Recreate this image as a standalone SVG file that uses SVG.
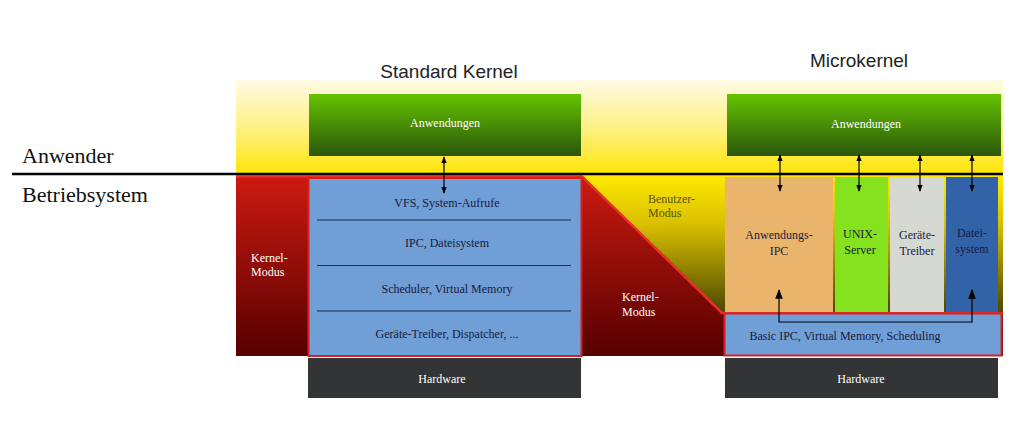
<svg xmlns="http://www.w3.org/2000/svg" width="1024" height="437" viewBox="0 0 1024 437">
<defs>
<linearGradient id="gYellow" x1="0" y1="0" x2="0" y2="1">
<stop offset="0" stop-color="#fffbe6"/><stop offset="0.55" stop-color="#fff07a"/><stop offset="1" stop-color="#ffe400"/>
</linearGradient>
<linearGradient id="gGreen" x1="0" y1="0" x2="0" y2="1">
<stop offset="0" stop-color="#66c300"/><stop offset="1" stop-color="#2a560c"/>
</linearGradient>
<linearGradient id="gRed" x1="0" y1="0" x2="0" y2="1">
<stop offset="0" stop-color="#cc1a10"/><stop offset="1" stop-color="#560000"/>
</linearGradient>
<linearGradient id="gOlive" gradientUnits="userSpaceOnUse" x1="0" y1="176" x2="0" y2="313">
<stop offset="0" stop-color="#ffe800"/><stop offset="0.35" stop-color="#d8c000"/><stop offset="1" stop-color="#4a4600"/>
</linearGradient>
<marker id="ah" viewBox="0 0 10 10" refX="9" refY="5" markerWidth="5.5" markerHeight="5.5" orient="auto-start-reverse">
<path d="M0,1 L10,5 L0,9 z" fill="#000"/>
</marker>
<marker id="ahb" viewBox="0 0 10 10" refX="9" refY="5" markerWidth="8" markerHeight="8" orient="auto-start-reverse">
<path d="M0,1 L10,5 L0,9 z" fill="#000"/>
</marker>
</defs>
<style>
.lbl{font-family:"Liberation Serif",serif;font-size:12px;text-anchor:middle}
.w{fill:#ffffff}
.d{fill:#1a1a3a}
.title{font-family:"Liberation Sans",sans-serif;font-size:19px;fill:#222;text-anchor:middle}
.side{font-family:"Liberation Serif",serif;font-size:22px;fill:#111}
.sep{stroke:#1a2a4a;stroke-width:1.2}
.conn{stroke:#000;stroke-width:1.2;fill:none}
</style>
<rect width="1024" height="437" fill="#ffffff"/>

<g id="background">
<rect x="236" y="80" width="767" height="96" fill="url(#gYellow)"/>
<rect x="236" y="176" width="767" height="180" fill="url(#gRed)"/>
<polygon points="582,176 1003,176 1003,313 722,313" fill="url(#gOlive)"/>
<polyline points="236,176.5 582,176.5 722,313 1003,313" fill="none" stroke="#e8302a" stroke-width="2.5"/>
</g>

<g id="titles">
<text class="title" x="449" y="78">Standard Kernel</text>
<text class="title" x="859" y="67">Microkernel</text>
</g>

<g id="side-labels">
<line x1="12" y1="174" x2="1003" y2="174" stroke="#000" stroke-width="2.5"/>
<text class="side" x="22" y="163">Anwender</text>
<text class="side" x="22" y="202">Betriebsystem</text>
</g>

<g id="std-apps">
<rect x="309" y="94" width="272" height="62" fill="url(#gGreen)"/>
<text class="lbl w" x="445" y="127">Anwendungen</text>
</g>

<g id="std-kernel-mode">
<text class="lbl w" x="251" y="262" style="text-anchor:start">Kernel-</text>
<text class="lbl w" x="251" y="276" style="text-anchor:start">Modus</text>
</g>

<g id="std-kernel">
<rect x="308.5" y="178" width="273" height="178" fill="#6f9fd6" stroke="#d82020" stroke-width="2"/>
<line class="sep" x1="317" y1="220" x2="571" y2="220"/>
<line class="sep" x1="317" y1="265.5" x2="571" y2="265.5"/>
<line class="sep" x1="317" y1="311" x2="571" y2="311"/>
<text class="lbl d" x="447" y="207">VFS, System-Aufrufe</text>
<text class="lbl d" x="447" y="247">IPC, Dateisystem</text>
<text class="lbl d" x="447" y="293">Scheduler, Virtual Memory</text>
<text class="lbl d" x="447" y="338">Geräte-Treiber, Dispatcher, ...</text>
</g>

<g id="std-hardware">
<rect x="308" y="358" width="273" height="40" fill="#323436"/>
<text class="lbl w" x="442" y="383">Hardware</text>
</g>

<g id="mid-modes">
<text class="lbl" x="648" y="203" style="fill:#5a5210;text-anchor:start">Benutzer-</text>
<text class="lbl" x="648" y="217" style="fill:#5a5210;text-anchor:start">Modus</text>
<text class="lbl w" x="622" y="301" style="text-anchor:start">Kernel-</text>
<text class="lbl w" x="622" y="316" style="text-anchor:start">Modus</text>
</g>

<g id="mk-apps">
<rect x="727" y="94" width="274" height="62" fill="url(#gGreen)"/>
<text class="lbl w" x="866" y="128">Anwendungen</text>
</g>

<g id="mk-ipc">
<rect x="725" y="177" width="108" height="135" fill="#e9b56d"/>
<text class="lbl d" x="779" y="239">Anwendungs-</text>
<text class="lbl d" x="779" y="255">IPC</text>
</g>
<g id="mk-unix">
<rect x="835" y="177" width="53" height="135" fill="#86e21e"/>
<text class="lbl d" x="860" y="238">UNIX-</text>
<text class="lbl d" x="860" y="254">Server</text>
</g>
<g id="mk-treiber">
<rect x="890" y="177" width="54" height="135" fill="#d6d8d2"/>
<text class="lbl d" x="917" y="239">Geräte-</text>
<text class="lbl d" x="917" y="255">Treiber</text>
</g>
<g id="mk-datei">
<rect x="946" y="177" width="52" height="135" fill="#3262a8"/>
<text class="lbl d" x="972" y="237">Datei-</text>
<text class="lbl d" x="972" y="253">system</text>
</g>

<g id="mk-basic">
<rect x="724.5" y="313.5" width="277" height="42" fill="#6f9fd6" stroke="#d82020" stroke-width="2"/>
<text class="lbl d" x="845" y="340">Basic IPC, Virtual Memory, Scheduling</text>
</g>

<g id="mk-hardware">
<rect x="725" y="358" width="273" height="40" fill="#323436"/>
<text class="lbl w" x="861" y="383">Hardware</text>
</g>

<g id="connectors">
<line class="conn" x1="444" y1="157" x2="444" y2="193" marker-start="url(#ah)" marker-end="url(#ah)"/>
<line class="conn" x1="780" y1="155" x2="780" y2="191" marker-start="url(#ah)" marker-end="url(#ah)"/>
<line class="conn" x1="859" y1="155" x2="859" y2="191" marker-start="url(#ah)" marker-end="url(#ah)"/>
<line class="conn" x1="920" y1="155" x2="920" y2="191" marker-start="url(#ah)" marker-end="url(#ah)"/>
<line class="conn" x1="972" y1="155" x2="972" y2="191" marker-start="url(#ah)" marker-end="url(#ah)"/>
<polyline class="conn" points="779,290 779,322 972,322 972,290" marker-start="url(#ahb)" marker-end="url(#ahb)"/>
</g>
</svg>
